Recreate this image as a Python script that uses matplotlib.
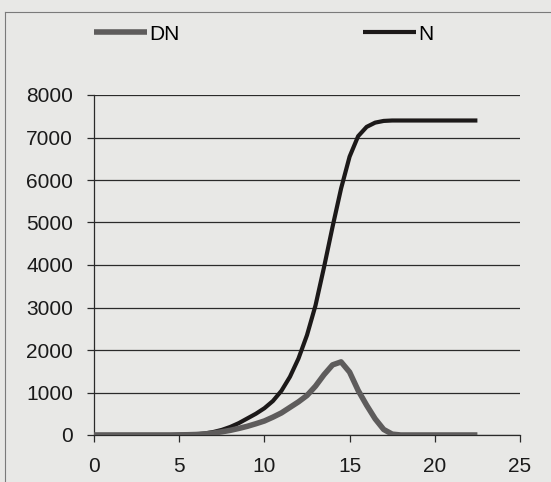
import numpy as np
import matplotlib
matplotlib.use("Agg")
import matplotlib.pyplot as plt
from matplotlib.lines import Line2D

plt.rcParams['font.family'] = ['Liberation Sans', 'DejaVu Sans']

# values (step 0.5)
x = np.arange(0, 23.0, 0.5)
N = [0, 0, 0, 0, 0, 0, 0, 0, 0, 0,
     3, 7, 15, 35, 70, 120, 190, 280, 390, 500,
     630, 800, 1040, 1370, 1800, 2350, 3050, 3950, 4900, 5800,
     6550, 7030, 7250, 7350, 7390, 7400, 7400, 7400, 7400, 7400,
     7400, 7400, 7400, 7400, 7400, 7400]
DN = [0, 0, 0, 0, 0, 0, 0, 0, 0, 0,
      3, 6, 12, 25, 45, 75, 110, 155, 205, 265,
      330, 420, 520, 650, 780, 930, 1150, 1420, 1650, 1720,
      1480, 1050, 700, 380, 130, 20, 0, 0, 0, 0,
      0, 0, 0, 0, 0, 0]

xticks = [0, 5, 10, 15, 20, 25]
yticks = [0, 1000, 2000, 3000, 4000, 5000, 6000, 7000, 8000]

bg = '#e8e8e6'
fig = plt.figure(figsize=(5.51, 4.82), dpi=100, facecolor=bg)
ax = fig.add_axes([94/551, 1 - 435/482, (520 - 94)/551, (435 - 95)/482])
ax.set_facecolor(bg)

ax.plot(x, N, color='#1c1919', lw=3.0, label='N', solid_capstyle='butt',
        solid_joinstyle='round', zorder=3)
ax.plot(x, DN, color='#5e5c5c', lw=4.0, label='DN', solid_capstyle='butt',
        solid_joinstyle='round', zorder=4)

ax.set_xlim(0, 25)
ax.set_ylim(0, 8000)
ax.set_xticks(xticks)
ax.set_yticks(yticks)
ax.grid(axis='y', color='#2a2a2a', lw=0.9)
ax.set_axisbelow(True)
for s in ['top', 'right']:
    ax.spines[s].set_visible(False)
for s in ['left', 'bottom']:
    ax.spines[s].set_color('#2a2a2a')
    ax.spines[s].set_linewidth(0.9)
ax.tick_params(axis='both', direction='out', length=5, width=0.9,
               color='#2a2a2a', labelsize=15, labelcolor='#1a1a1a')
ax.tick_params(axis='x', pad=11)
ax.tick_params(axis='y', pad=10)

h, l = ax.get_legend_handles_labels()
fig.legend([h[1], h[0]], [l[1], l[0]], loc='center left',
           bbox_to_anchor=(75/551, 1 - 34/482), ncol=2, frameon=False,
           fontsize=15, handlelength=2.55, handletextpad=0.1,
           columnspacing=8.8)

# chart border of the scanned page
fig.add_artist(Line2D([5/551, 5/551], [0, 1 - 12/482], color='#7a7a7a', lw=0.8))
fig.add_artist(Line2D([5/551, 1], [1 - 12/482, 1 - 12/482], color='#7a7a7a', lw=0.8))

fig.savefig('out.png', dpi=100, facecolor=bg)
